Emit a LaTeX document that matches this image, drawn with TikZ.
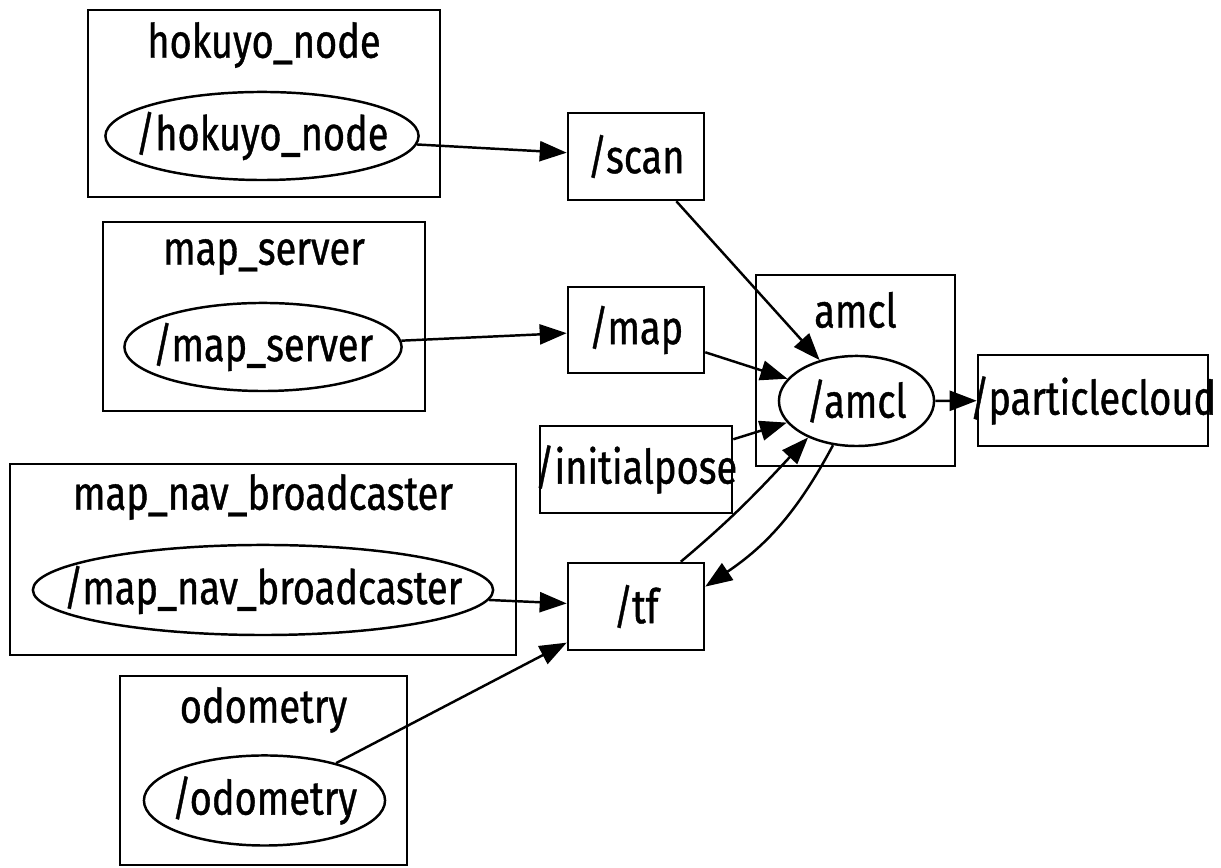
\documentclass[tikz,border=0pt]{standalone}
\usepackage{fontspec}
\setmainfont{Fira Sans}[FakeStretch=0.8, FakeBold=0.8]
\usetikzlibrary{arrows.meta,shapes.geometric}

\begin{document}
\begin{tikzpicture}[x=0.01cm, y=-0.01cm, line width=0.7pt,
	every node/.style={font=\fontsize{13.5}{15}\selectfont, inner sep=0pt},
	every label/.style={font=\fontsize{13.5}{15}\selectfont},
	cluster/.style={draw, rectangle},
	proc/.style={draw, ellipse},
	topic/.style={draw, rectangle},
	edge/.style={-{Triangle[length=0.27cm, width=0.2cm]}}]
	\useasboundingbox (0,0) rectangle (1221,868);
	% node groups
	\node[cluster, minimum width=3.52cm, minimum height=1.87cm] (hokuyoC) at (264,103.5) {};
	\node (hokuyoT) at (264,45) {hokuyo\_node};
	\node[proc, minimum width=3.13cm, minimum height=0.88cm, label=center:/hokuyo\_node] (hokuyo) at (262,136) {};
	\node[cluster, minimum width=3.22cm, minimum height=1.89cm] (mapsrvC) at (264,316.5) {};
	\node (mapsrvT) at (264,257) {map\_server};
	\node[proc, minimum width=2.77cm, minimum height=0.88cm, label=center:/map\_server] (mapsrv) at (263,347) {};
	\node[cluster, minimum width=5.06cm, minimum height=1.91cm] (navC) at (263,559.5) {};
	\node (navT) at (263,497) {map\_nav\_broadcaster};
	\node[proc, minimum width=4.60cm, minimum height=0.90cm, label=center:/map\_nav\_broadcaster] (nav) at (263,590) {};
	\node[cluster, minimum width=2.87cm, minimum height=1.89cm] (odomC) at (263.5,770.5) {};
	\node (odomT) at (263.5,710) {odometry};
	\node[proc, minimum width=2.41cm, minimum height=0.90cm, label=center:/odometry] (odom) at (264.5,800.5) {};
	\node[cluster, minimum width=1.99cm, minimum height=1.91cm] (amclC) at (855.5,370.5) {};
	\node (amclT) at (855.5,310) {amcl};
	\node[proc, minimum width=1.55cm, minimum height=0.90cm, label=center:/amcl] (amcl) at (856.5,401) {};
	% topics
	\node[topic, minimum width=1.36cm, minimum height=0.87cm, label=center:/scan] (scan) at (636,156.5) {};
	\node[topic, minimum width=1.36cm, minimum height=0.86cm, label=center:/map] (map) at (636,330) {};
	\node[topic, minimum width=1.92cm, minimum height=0.87cm, label=center:/initialpose] (initpose) at (636,469.5) {};
	\node[topic, minimum width=1.36cm, minimum height=0.87cm, label=center:/tf] (tf) at (636,606.5) {};
	\node[topic, minimum width=2.30cm, minimum height=0.91cm, label=center:/particlecloud] (cloud) at (1093,400.5) {};
	% connections
	\foreach \a/\b in {hokuyo/scan, scan/amcl, mapsrv/map, map/amcl, initpose/amcl,
		amcl/cloud, nav/tf, odom/tf}
	{
		\draw[edge] (\a) -- (\b);
	}
	\draw[edge] (tf.45) to[out=40, in=227] (amcl.217);
	\draw[edge] (amcl.242) to[bend left=14] (tf.16);
\end{tikzpicture}
\end{document}
